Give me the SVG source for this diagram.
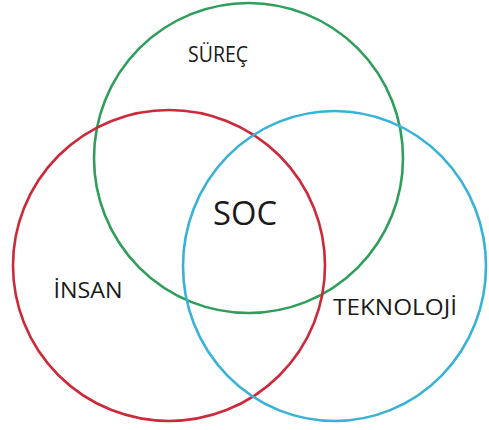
<svg xmlns="http://www.w3.org/2000/svg" width="489" height="430" viewBox="0 0 489 430">
<style>
.c{fill:none;stroke-width:2.6}
.t{font-family:"Open Sans","Liberation Sans",Arial,sans-serif;fill:#1a1a1a;text-anchor:middle}
</style>
<rect width="489" height="430" fill="#fff"/>
<g id="surec">
<ellipse class="c" cx="248.5" cy="158" rx="154.5" ry="155" stroke="#2f9e5c"/>
<text class="t" x="218" y="62" font-size="21" textLength="60" lengthAdjust="spacingAndGlyphs">SÜREÇ</text>
</g>
<g id="insan">
<ellipse class="c" cx="169" cy="265.5" rx="156" ry="155.5" stroke="#cc2a3a"/>
<text class="t" x="88" y="298" font-size="21" textLength="69" lengthAdjust="spacingAndGlyphs">İNSAN</text>
</g>
<g id="teknoloji">
<ellipse class="c" cx="334.5" cy="266" rx="151.5" ry="155" stroke="#38b2d6"/>
<text class="t" x="395" y="315" font-size="22" textLength="124" lengthAdjust="spacingAndGlyphs">TEKNOLOJİ</text>
</g>
<g id="soc">
<text class="t" x="245" y="225" font-size="32" textLength="64" lengthAdjust="spacingAndGlyphs">SOC</text>
</g>
<g id="connectors"/>
</svg>
